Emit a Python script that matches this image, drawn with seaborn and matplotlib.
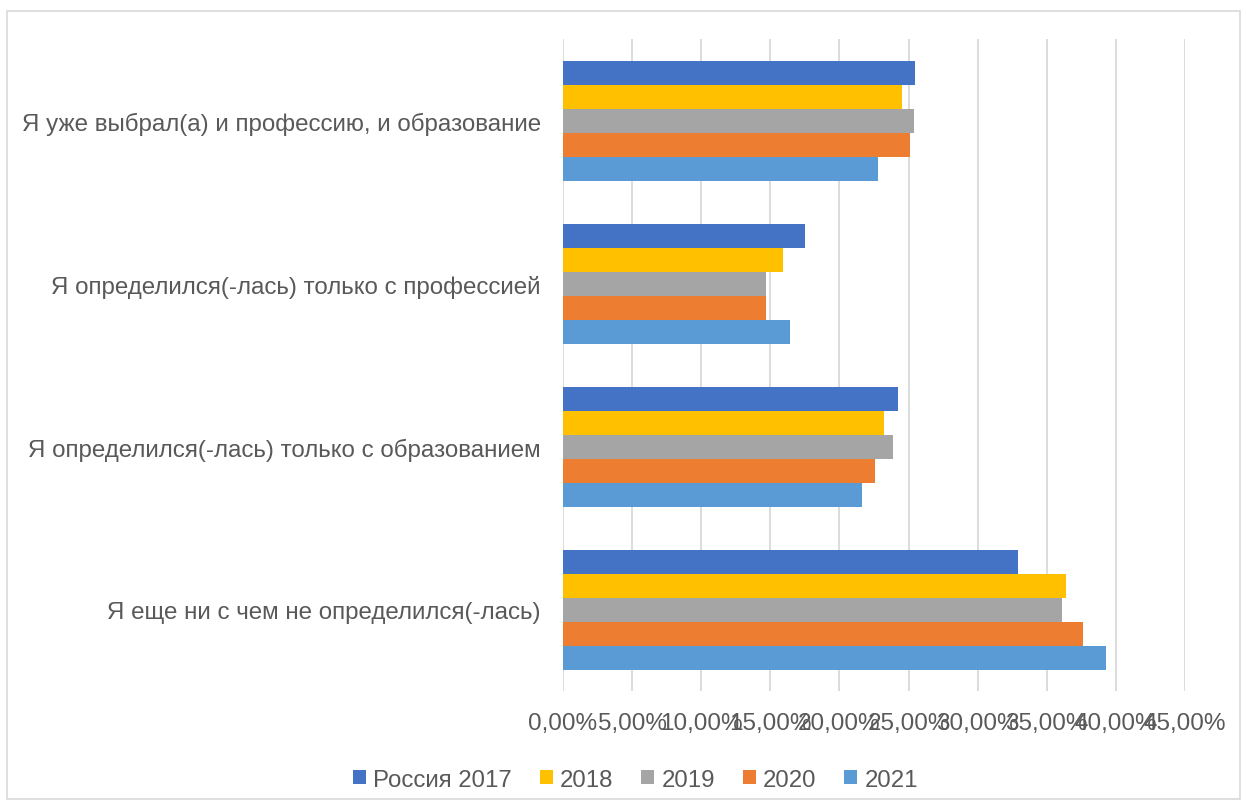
import pandas as pd
import seaborn as sns
import matplotlib.pyplot as plt
from matplotlib.patches import Rectangle
from matplotlib.ticker import FuncFormatter

categories = [
    "Я уже выбрал(а) и профессию, и образование",
    "Я определился(-лась) только с профессией",
    "Я определился(-лась) только с образованием",
    "Я еще ни с чем не определился(-лась)",
]
years = ["Россия 2017", "2018", "2019", "2020", "2021"]

# values in percent, per category, one list per year
russia_2017 = [25.5, 17.5, 24.2, 32.9]
y2018 = [24.5, 15.9, 23.2, 36.4]
y2019 = [25.4, 14.7, 23.9, 36.1]
y2020 = [25.1, 14.7, 22.6, 37.6]
y2021 = [22.8, 16.4, 21.6, 39.3]

colors = ["#4472C4", "#FFC000", "#A5A5A5", "#ED7D31", "#5B9BD5"]

series = [russia_2017, y2018, y2019, y2020, y2021]
rows = []
for year, vals in zip(years, series):
    for cat, v in zip(categories, vals):
        rows.append({"category": cat, "year": year, "value": v})
df = pd.DataFrame(rows)

sns.set_style("white")
plt.rcParams["font.family"] = ["Liberation Sans", "DejaVu Sans"]

fig = plt.figure(figsize=(12.47, 8.03), dpi=100)
ax = fig.add_axes([0.4515, 0.138, 0.4988, 0.812])

sns.barplot(data=df, x="value", y="category", hue="year", order=categories,
            hue_order=years, palette=colors, orient="h", width=0.735,
            saturation=1, linewidth=0, errorbar=None, ax=ax)

ax.set_xlim(0, 45)
ax.set_xticks([0, 5, 10, 15, 20, 25, 30, 35, 40, 45])
ax.xaxis.set_major_formatter(FuncFormatter(lambda v, p: f"{v:.2f}%".replace(".", ",")))
ax.grid(axis="x", color="#D9D9D9", linewidth=1.3)
ax.set_axisbelow(True)
for s in ax.spines.values():
    s.set_visible(False)
ax.tick_params(axis="x", length=0, pad=15, labelsize=17.5, labelcolor="#595959")
ax.tick_params(axis="y", length=0, pad=16, labelsize=17.4, labelcolor="#595959")
ax.set_xlabel("")
ax.set_ylabel("")

handles, labels = ax.get_legend_handles_labels()
ax.get_legend().remove()
fig.legend(handles, labels, loc="center", bbox_to_anchor=(0.5096, 0.028), ncol=5,
           frameon=False, fontsize=17.3, handlelength=0.55, handleheight=0.55,
           handletextpad=0.3, columnspacing=1.15, labelcolor="#595959")

fig.patches.append(Rectangle((0.006, 0.004), 0.988, 0.981, transform=fig.transFigure,
                             fill=False, edgecolor="#D9D9D9", linewidth=1.2))

fig.savefig("out.png", dpi=100)
